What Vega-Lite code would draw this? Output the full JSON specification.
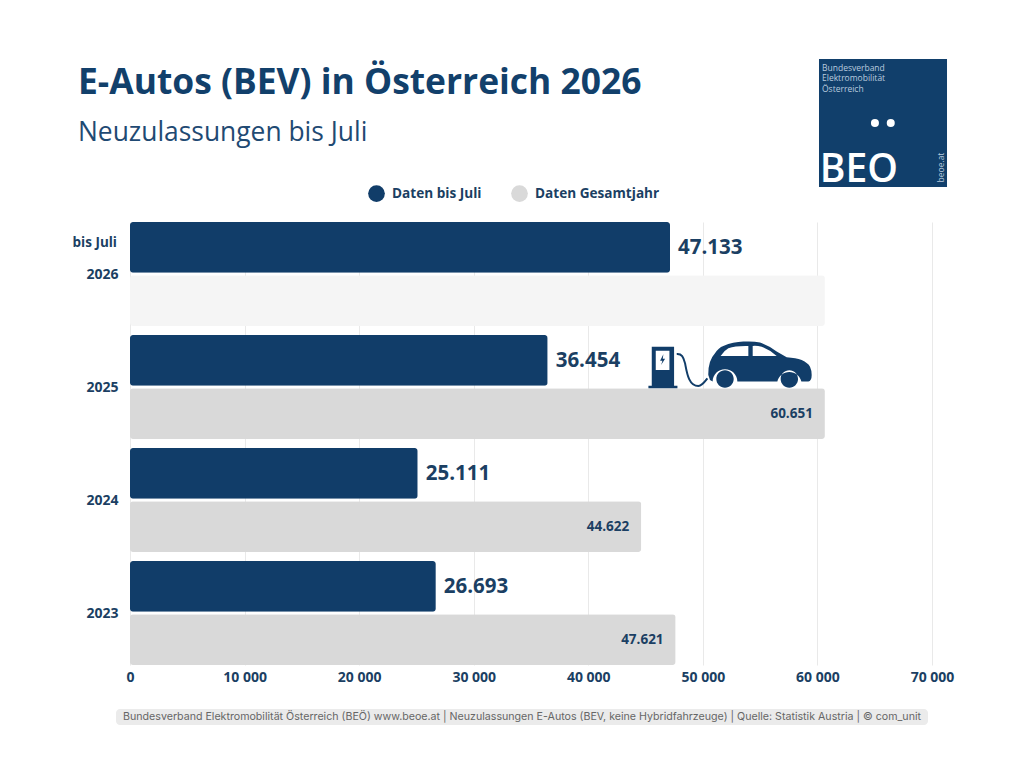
{
"$schema":"https://vega.github.io/schema/vega-lite/v6.json",
"width":802,"height":443,
"autosize":{"type":"none"},
"padding":{"left":130,"top":222,"right":92,"bottom":103},
"background":"white",
"title":{"text":"E-Autos (BEV) in Österreich 2026","subtitle":"Neuzulassungen bis Juli","anchor":"start","frame":"group","dx":-52,"offset":-87,"font":"Open Sans","fontSize":35.4,"fontWeight":"bold","color":"#12406b","subtitleFont":"Open Sans","subtitleFontSize":26.4,"subtitleFontWeight":"normal","subtitleColor":"#1f4a73","subtitlePadding":18},
"config":{"view":{"stroke":null},"font":"Open Sans"},
"resolve":{"scale":{"y":"independent"},"axis":{"x":"independent"}},
"layer":[
{"data":{"values":[
{"year":"2026","series":"Daten bis Juli","value":47133,"label":"47.133","colorKey":"Daten bis Juli"},
{"year":"2026","series":"Daten Gesamtjahr","value":60651,"label":"","colorKey":"Gesamtjahr offen"},
{"year":"2025","series":"Daten bis Juli","value":36454,"label":"36.454","colorKey":"Daten bis Juli"},
{"year":"2025","series":"Daten Gesamtjahr","value":60651,"label":"60.651","colorKey":"Daten Gesamtjahr"},
{"year":"2024","series":"Daten bis Juli","value":25111,"label":"25.111","colorKey":"Daten bis Juli"},
{"year":"2024","series":"Daten Gesamtjahr","value":44622,"label":"44.622","colorKey":"Daten Gesamtjahr"},
{"year":"2023","series":"Daten bis Juli","value":26693,"label":"26.693","colorKey":"Daten bis Juli"},
{"year":"2023","series":"Daten Gesamtjahr","value":47621,"label":"47.621","colorKey":"Daten Gesamtjahr"}
]},
"encoding":{
"y":{"field":"year","type":"nominal","title":null,"scale":{"domain":["2026","2025","2024","2023"],"paddingInner":0.08,"paddingOuter":0},"axis":{"domain":false,"ticks":false,"labelPadding":12,"labelOffset":1,"labelFont":"Open Sans","labelFontSize":14,"labelFontWeight":"bold","labelColor":"#1b3f63","grid":false}},
"yOffset":{"field":"series","type":"nominal","scale":{"domain":["Daten bis Juli","Daten Gesamtjahr"],"paddingInner":0.05,"paddingOuter":0}},
"x":{"field":"value","type":"quantitative","title":null,"scale":{"domain":[0,70000],"nice":false},"axis":{"values":[0,10000,20000,30000,40000,50000,60000,70000],"domain":false,"ticks":false,"grid":true,"gridColor":"#e9e9e9","gridWidth":1,"labelPadding":5,"labelFont":"Open Sans","labelFontSize":14,"labelFontWeight":"bold","labelColor":"#1b3f63","labelExpr":"replace(format(datum.value,','),',',' ')","labelOverlap":false,"labelFlush":false}}
},
"layer":[
{"mark":{"type":"bar","cornerRadius":3},
"encoding":{
"color":{"field":"colorKey","type":"nominal","scale":{"domain":["Daten bis Juli","Daten Gesamtjahr","Gesamtjahr offen"],"range":["#113d69","#d9d9d9","#f5f5f5"]},"legend":{"title":null,"values":["Daten bis Juli","Daten Gesamtjahr"],"orient":"none","legendX":237,"legendY":-38,"direction":"horizontal","columns":2,"symbolType":"circle","symbolSize":280,"symbolOpacity":1,"labelFont":"Open Sans","labelFontSize":13.6,"labelFontWeight":"bold","labelColor":"#1b3f63","columnPadding":28,"labelOffset":6,"labelLimit":200}}
}},
{"transform":[{"filter":"datum.series=='Daten bis Juli'"}],
"mark":{"type":"text","align":"left","dx":8,"dy":1,"fontSize":20.5,"fontWeight":"bold","font":"Open Sans","color":"#1b3f63"},
"encoding":{"text":{"field":"label"}}},
{"transform":[{"filter":"datum.series=='Daten Gesamtjahr' && datum.label!=''"}],
"mark":{"type":"text","align":"right","dx":-12,"fontSize":13.5,"fontWeight":"bold","font":"Open Sans","color":"#1b3f63"},
"encoding":{"text":{"field":"label"}}},
{"transform":[{"filter":"datum.year=='2026' && datum.series=='Daten bis Juli'"}],
"mark":{"type":"text","align":"right","dx":-13,"dy":-4,"fontSize":13.5,"fontWeight":"bold","font":"Open Sans","color":"#1b3f63"},
"encoding":{"x":{"datum":0},"text":{"value":"bis Juli"}}}
]},
{"encoding":{
"x":{"field":"xv","type":"quantitative","scale":{"domain":[0,70000],"nice":false},"axis":null},
"y":{"field":"yv","type":"quantitative","scale":{"domain":[2022.54,2026.46],"nice":false,"zero":false},"axis":null}
},
"layer":[
{"data":{"values":[{"xv":60137,"x2v":71310,"yv":2027.903,"y2v":2026.77}]},"mark":{"type":"rect","color":"#113f6b"},"encoding":{"x2":{"field":"x2v"},"y2":{"field":"y2v"}}},
{"data":{"values":[{"xv":-1222,"x2v":69651,"yv":2022.15,"y2v":2022.01}]},"mark":{"type":"rect","color":"#ebebeb","cornerRadius":4},"encoding":{"x2":{"field":"x2v"},"y2":{"field":"y2v"}}},
{"data":{"values":[{"xv":34214,"yv":2022.08,"t":"Bundesverband Elektromobilität Österreich (BEÖ) www.beoe.at | Neuzulassungen E-Autos (BEV, keine Hybridfahrzeuge) | Quelle: Statistik Austria | © com_unit"}]},"mark":{"type":"text","font":"Inter","fontSize":10.65,"color":"#666666"},"encoding":{"text":{"field":"t"}}},
{"data":{"values":[{"xv":60400,"yv":2027.82,"t":"Bundesverband"},{"xv":60400,"yv":2027.73,"t":"Elektromobilität"},{"xv":60400,"yv":2027.64,"t":"Österreich"}]},"mark":{"type":"text","align":"left","font":"Open Sans","fontSize":8.5,"color":"#b9cbdf"},"encoding":{"text":{"field":"t"}}},
{"data":{"values":[{"xv":60200,"yv":2026.81,"t":"BEO"}]},"mark":{"type":"text","align":"left","baseline":"alphabetic","font":"Open Sans","fontWeight":600,"fontSize":39,"color":"#ffffff"},"encoding":{"text":{"field":"t"}}},
{"data":{"values":[{"xv":70800,"yv":2026.81,"t":"beoe.at"}]},"mark":{"type":"text","align":"left","baseline":"middle","angle":270,"font":"Open Sans","fontSize":8.5,"color":"#b9cbdf"},"encoding":{"text":{"field":"t"}}},
{"data":{"values":[{"xv":65020,"yv":2027.336},{"xv":66400,"yv":2027.336}]},"mark":{"type":"point","shape":"circle","filled":true,"opacity":1,"size":64,"color":"#ffffff"}},
{"data":{"values":[{"xv":54930,"yv":2025.195}]},"mark":{"type":"point","filled":true,"opacity":1,"size":10960,"color":"#113d69","strokeWidth":0,"shape":"M-.975,.19 Q-.98,-.08 -.847,-.223 Q-.78,-.33 -.688,-.363 Q-.5,-.44 -.306,-.446 Q-.12,-.46 .013,-.427 Q.2,-.36 .331,-.255 L.522,-.146 Q.7,-.13 .809,-.096 Q.93,-.04 .968,.032 Q1,.1 1,.191 Q1,.3 .936,.318 L.803,.318 A.235,.235 0 0 0 .344,.318 L-.42,.318 A.235,.235 0 0 0 -.892,.318 L-.943,.287 Z M-.74,-.17 L-.21,-.17 L-.21,-.363 Q-.45,-.37 -.592,-.318 Q-.68,-.27 -.74,-.17 Z M-.127,-.17 L.331,-.17 Q.2,-.29 .045,-.35 Q-.05,-.37 -.127,-.363 Z M-.822,.268 A.166,.166 0 1 0 -.49,.268 A.166,.166 0 1 0 -.822,.268 Z M.407,.268 A.166,.166 0 1 0 .739,.268 A.166,.166 0 1 0 .407,.268 Z"}},
{"data":{"values":[{"xv":46500,"yv":2025.174}]},"mark":{"type":"point","filled":true,"opacity":1,"size":1708,"color":"#113d69","strokeWidth":0,"shape":"M-.532,-1 L.548,-1 L.548,.887 L.71,.887 L.71,1.016 L-.694,1.016 L-.694,.887 L-.532,.887 Z M-.339,-.806 L-.339,.129 L.323,.129 L.323,-.806 Z M.03,-.629 L-.129,-.323 L-.016,-.323 L-.08,-.113 L.113,-.419 L0,-.419 Z"}},
{"data":{"values":[{"xv":49030,"yv":2025.15}]},"mark":{"type":"point","filled":false,"opacity":1,"size":1111,"color":"#113d69","strokeWidth":2,"shape":"M-.9,-.96 C-.6,-.98 -.5,-.8 -.4,-.4 C-.3,.1 -.2,.96 .4,.96 C.6,.96 .75,.75 .94,.5"}}
]}
]
}
